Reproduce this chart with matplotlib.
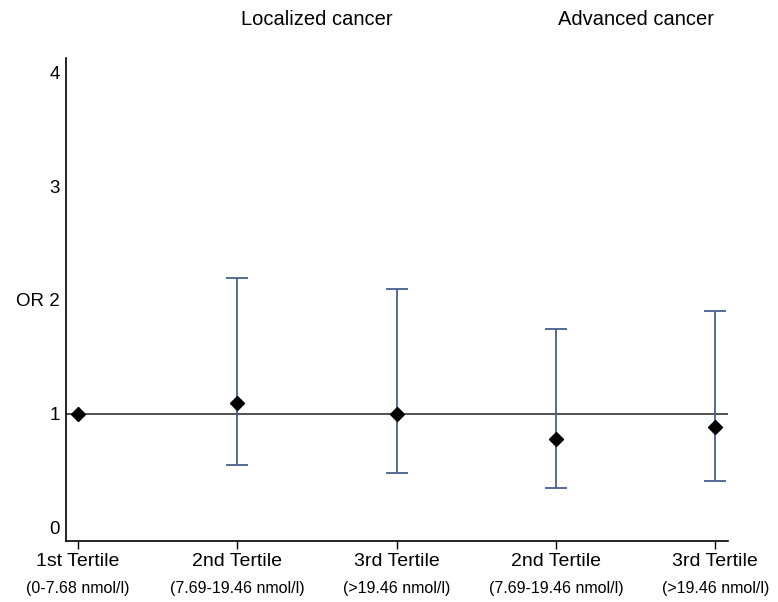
import numpy as np
import matplotlib
matplotlib.use("Agg")
import matplotlib.pyplot as plt

plt.rcParams['font.family'] = ['Liberation Sans', 'DejaVu Sans']

categories = ["1st Tertile", "2nd Tertile", "3rd Tertile", "2nd Tertile", "3rd Tertile"]
ranges = ["(0-7.68 nmol/l)", "(7.69-19.46 nmol/l)", "(>19.46 nmol/l)",
          "(7.69-19.46 nmol/l)", "(>19.46 nmol/l)"]
odds_ratio = [1.0, 1.09, 1.00, 0.78, 0.88]
ci_lower = [np.nan, 0.55, 0.48, 0.35, 0.41]
ci_upper = [np.nan, 2.19, 2.10, 1.745, 1.90]
group_titles = ["Localized cancer", "Advanced cancer"]
ytick_values = [0, 1, 2, 3, 4]
ytick_labels = ["0", "1", "OR 2", "3", "4"]

fig = plt.figure(figsize=(7.78, 6.02), dpi=100)
ax = fig.add_axes([0.0844, 0.1013, 0.8513, 0.8024])

x = np.arange(len(categories))
ax.axhline(1.0, color='#222222', lw=1.1, zorder=1)

xe = x[1:]
ye = np.array(odds_ratio[1:])
lo = ye - np.array(ci_lower[1:])
hi = np.array(ci_upper[1:]) - ye
ax.errorbar(xe, ye, yerr=[lo, hi], fmt='none', ecolor='#47608f',
            elinewidth=1.3, capsize=8, capthick=1.3, zorder=2)
ax.plot(x, odds_ratio, linestyle='none', marker='D', markersize=7.5,
        color='black', zorder=3)

ax.set_xlim(-0.077, 4.08)
ax.set_ylim(-0.12, 4.128)

ax.spines['top'].set_visible(False)
ax.spines['right'].set_visible(False)
ax.spines['left'].set_linewidth(1.2)
ax.spines['bottom'].set_linewidth(1.2)

ax.set_yticks(ytick_values)
ax.set_yticklabels(ytick_labels, fontsize=13.5)
ax.tick_params(axis='y', length=0, pad=4)

ax.set_xticks(x)
ax.set_xticklabels(categories, fontsize=14)
ax.tick_params(axis='x', length=5.5, width=1, pad=3)

for xi, r in zip(x, ranges):
    ax.annotate(r, xy=(xi, 0), xycoords=('data', 'axes fraction'),
                xytext=(0, -34), textcoords='offset points',
                ha='center', va='center', fontsize=11.5)

centers = [(x[1] + x[2]) / 2, (x[3] + x[4]) / 2]
for c, t in zip(centers, group_titles):
    ax.annotate(t, xy=(c, 1), xycoords=('data', 'axes fraction'),
                xytext=(0, 28), textcoords='offset points',
                ha='center', va='center', fontsize=14.5)

fig.savefig("out.png", dpi=100)
